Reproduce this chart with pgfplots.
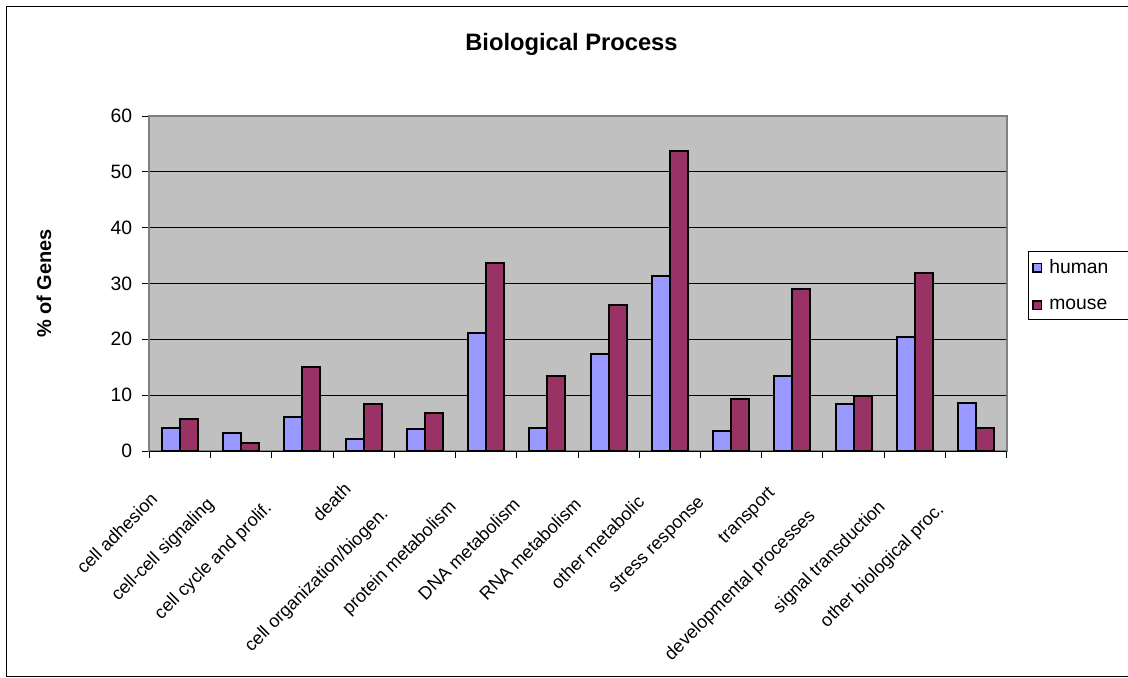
\documentclass[border=0pt]{standalone}
\usepackage{fontspec}
\setmainfont{Liberation Sans}
\usepackage{pgfplots}
\pgfplotsset{compat=1.18}
\definecolor{human}{HTML}{9999FF}
\definecolor{mouse}{HTML}{993366}
\definecolor{plotbg}{HTML}{C0C0C0}
\definecolor{frame}{HTML}{808080}
\newlength{\lablen}
\newcommand{\lab}[1]{\settowidth{\lablen}{#1}#1\hspace*{\dimexpr 5.25pt + 0.23\lablen\relax}}
\begin{document}
\begin{tikzpicture}[font=\fontsize{14.5}{17}\selectfont]
\path[use as bounding box] (0,0) rectangle (846pt,-508.5pt);
\draw[black, line width=0.75pt] (850pt,-4.5pt) -- (4.5pt,-4.5pt) -- (4.5pt,-507pt) -- (850pt,-507pt);
\node[font=\fontsize{17.8}{20}\selectfont\bfseries, anchor=base] at (428.6pt,-37.5pt) {Biological Process};
\node[font=\fontsize{15}{18}\selectfont\bfseries, rotate=90] at (33pt,-212.6pt) {\% of Genes};
\begin{axis}[
  at={(112pt,-338.25pt)}, anchor=south west,
  scale only axis, width=643pt, height=251.25pt,
  ybar=0pt, bar width=13.5pt,
  xmin=-0.5, xmax=13.5, ymin=0, ymax=60,
  ytick={0,10,...,60},
  /pgf/number format/assume math mode=true,
  ymajorgrids, grid style={black, line width=0.75pt},
  axis background/.style={fill=plotbg},
  axis line style={draw=frame, line width=1.5pt},
  tick align=outside,
  tick style={black, line width=0.75pt},
  major tick length=5.25pt,
  xtick pos=bottom, ytick pos=left,
  xtick={-0.5,0.5,...,13.5}, xticklabels={},
  extra x ticks={0,1,2,3,4,5,6,7,8,9,10,11,12,13},
  extra x tick labels={\lab{cell adhesion},\lab{cell-cell signaling},\lab{cell cycle and prolif.},\lab{death},\lab{cell organization/biogen.},\lab{protein metabolism},\lab{DNA metabolism},\lab{RNA metabolism},\lab{other metabolic},\lab{stress response},\lab{transport},\lab{developmental processes},\lab{signal transduction},\lab{other biological proc.}},
  extra x tick style={major tick length=0pt, grid=none,
    tick label style={font=\fontsize{13.5}{16}\selectfont, xshift=-6.5pt, yshift=-13.5pt, rotate=45, anchor=north east, inner sep=0pt}},
  yticklabel style={font=\fontsize{14.5}{17}\selectfont, inner sep=0pt, xshift=-7.5pt},
  legend style={at={(1,0.598)}, anchor=north west, xshift=15.75pt,
    draw=black, line width=0.75pt, fill=white, inner xsep=3pt, inner ysep=4.5pt,
    row sep=13.25pt, font=\fontsize{14.5}{17}\selectfont},
  legend cell align=left,
  legend image code/.code={\draw[#1, line width=1.2pt] (1.5pt,-3.2pt) rectangle (7.9pt,3.2pt); \path (11pt,0pt);},
]
\addplot[fill=human, draw=black, line width=1.5pt] coordinates {
(0,4.07) (1,3.17) (2,6.15) (3,2.1) (4,3.9) (5,21.1) (6,4.18) (7,17.4) (8,31.4) (9,3.64) (10,13.4) (11,8.37) (12,20.5) (13,8.66)};
\addlegendentry{human\hspace*{25pt}}
\addplot[fill=mouse, draw=black, line width=1.5pt] coordinates {
(0,5.68) (1,1.38) (2,15.0) (3,8.42) (4,6.76) (5,33.75) (6,13.44) (7,26.2) (8,53.8) (9,9.27) (10,29.0) (11,9.86) (12,31.85) (13,4.07)};
\addlegendentry{mouse}
\draw[black, line width=0.75pt] (rel axis cs:0,0) -- (rel axis cs:1,0);
\end{axis}
\end{tikzpicture}
\end{document}
